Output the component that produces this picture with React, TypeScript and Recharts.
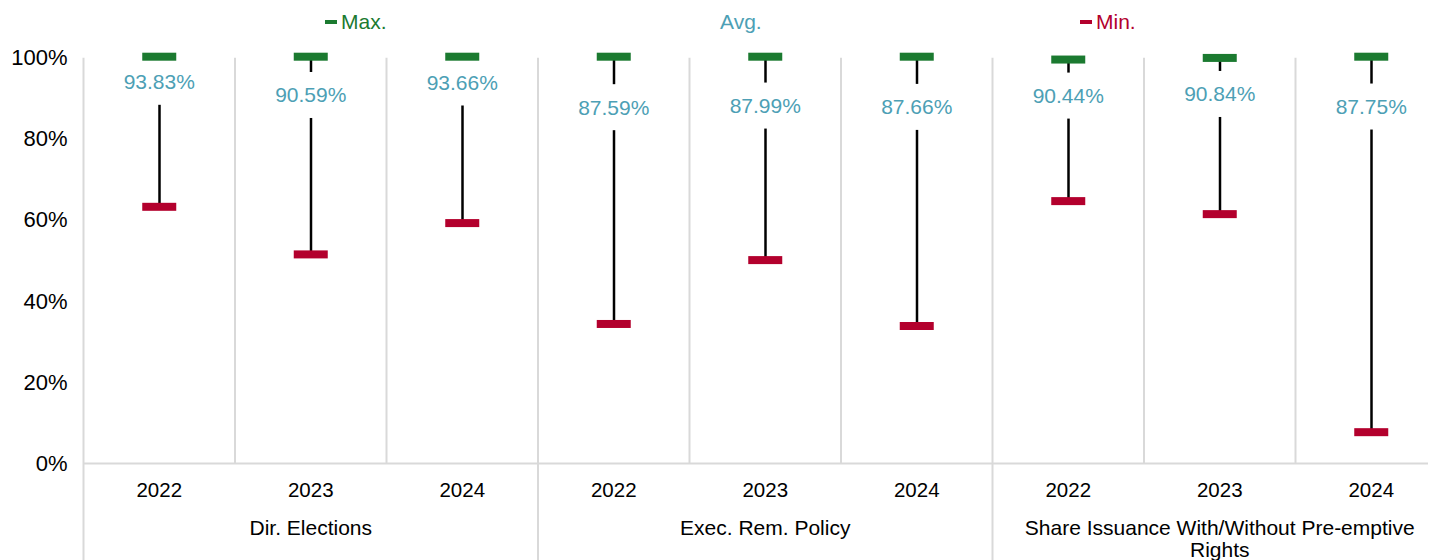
import React from "react"
import {
  ComposedChart,
  Bar,
  Scatter,
  XAxis,
  YAxis,
  Legend,
} from "recharts"

// values (fractions of 100%)
const groups = ["Dir. Elections", "Exec. Rem. Policy", "Share Issuance With/Without Pre-emptive Rights"]
const years = ["2022", "2023", "2024"]
const maxValues = [1, 1, 1, 1, 1, 1, 0.993, 0.997, 1]
const avgValues = [0.9383, 0.9059, 0.9366, 0.8759, 0.8799, 0.8766, 0.9044, 0.9084, 0.8775]
const minValues = [0.631, 0.514, 0.591, 0.343, 0.5, 0.338, 0.645, 0.613, 0.077]
const yTicks = [0, 0.2, 0.4, 0.6, 0.8, 1]

const data = groups.flatMap((g, gi) =>
  years.map((y, yi) => {
    const i = gi * 3 + yi
    return {
      key: `${g}|${y}`,
      group: g,
      year: y,
      max: maxValues[i],
      avg: avgValues[i],
      min: minValues[i],
      range: [minValues[i], maxValues[i]],
    }
  })
)

const GREEN = "#1b7a30"
const RED = "#b3002d"
const TEAL = "#4d9fb5"
const GRID = "#d9d9d9"
const FONT = 21
const FAMILY = "'Liberation Sans', Arial, sans-serif"

const CHART_W = 1440
const CHART_H = 600
const TOP = 48.7
const LEFT = 75.5
const RIGHT = 1
const PLOT_BOTTOM = 455.5
const BAND = (CHART_W - LEFT - RIGHT) / data.length

// simple word wrap using canvas text metrics
let ctx: CanvasRenderingContext2D | null = null
function wrap(label: string, maxWidth: number) {
  if (!ctx) {
    ctx = document.createElement("canvas").getContext("2d")
    if (ctx) ctx.font = `${FONT}px 'Liberation Sans', Arial, sans-serif`
  }
  const words = label.split(" ")
  const lines: string[] = []
  let cur = ""
  for (const w of words) {
    const next = cur ? `${cur} ${w}` : w
    const width = ctx ? ctx.measureText(next).width : next.length * FONT * 0.5
    if (width > maxWidth && cur) {
      lines.push(cur)
      cur = w
    } else {
      cur = next
    }
  }
  if (cur) lines.push(cur)
  return lines
}

const YearTick = (props: any) => {
  const { x, index } = props
  const left = x - BAND / 2
  return (
    <g>
      <line
        x1={left}
        x2={left}
        y1={TOP + 1}
        y2={index % 3 === 0 ? CHART_H : PLOT_BOTTOM}
        stroke={GRID}
        strokeWidth={2}
      />
      <text x={x} y={PLOT_BOTTOM + 26} dy="0.35em" textAnchor="middle" fontSize={20.5} fill="#000">
        {data[index].year}
      </text>
    </g>
  )
}

const GroupTick = (props: any) => {
  const { x, index } = props
  if (index % 3 !== 1) return <g />
  const lines = wrap(data[index].group, 430)
  return (
    <text x={x} y={520} textAnchor="middle" fontSize={FONT} fill="#000">
      {lines.map((l, i) => (
        <tspan key={i} x={x} dy={i === 0 ? "0.35em" : 22}>
          {l}
        </tspan>
      ))}
    </text>
  )
}

const Stem = (props: any) => {
  const { x, y, width, height } = props
  const cx = x + width / 2
  return <line x1={cx} x2={cx} y1={y} y2={y + height} stroke="#000" strokeWidth={2.5} />
}

const AvgLabel = (props: any) => {
  const { cx, cy, payload } = props
  return (
    <g>
      <rect x={cx - 42} y={cy - 23} width={84} height={46} fill="#fff" />
      <text x={cx} y={cy} dy="0.35em" textAnchor="middle" fontSize={FONT} fill={TEAL}>
        {`${(payload.avg * 100).toFixed(2)}%`}
      </text>
    </g>
  )
}

const MaxMark = (props: any) => {
  const { cx, cy } = props
  return <rect x={cx - 17} y={cy - 4} width={34} height={8} fill={GREEN} />
}

const MinMark = (props: any) => {
  const { cx, cy } = props
  return <rect x={cx - 17} y={cy - 4} width={34} height={8} fill={RED} />
}

const legendItems = [
  { name: "Max.", color: GREEN, marker: true, x: 317 },
  { name: "Avg.", color: TEAL, marker: false, x: 712 },
  { name: "Min.", color: RED, marker: true, x: 1072 },
]

const renderLegend = () => (
  <div style={{ position: "relative", height: 30 }}>
    {legendItems.map((it) => (
      <div
        key={it.name}
        style={{
          position: "absolute",
          left: it.x,
          top: 2,
          display: "flex",
          alignItems: "center",
          color: it.color,
          fontSize: FONT,
          lineHeight: "24px",
        }}
      >
        {it.marker && (
          <span style={{ display: "inline-block", width: 12, height: 4, background: it.color, marginRight: 4 }} />
        )}
        {it.name}
      </div>
    ))}
  </div>
)

export default function App() {
  return (
    <div
      style={{
        width: 1428,
        height: 552,
        overflow: "hidden",
        position: "relative",
        fontFamily: FAMILY,
      }}
    >
      <ComposedChart
        width={CHART_W}
        height={CHART_H}
        data={data}
        margin={{ top: TOP, right: RIGHT, left: 0, bottom: 0 }}
      >
        <XAxis
          dataKey="key"
          interval={0}
          height={40}
          tickLine={false}
          axisLine={{ stroke: GRID, strokeWidth: 2 }}
          tick={<YearTick />}
        />
        <XAxis
          dataKey="key"
          xAxisId="group"
          interval={0}
          height={104.5}
          tickLine={false}
          axisLine={false}
          tick={<GroupTick />}
        />
        <YAxis
          width={LEFT}
          domain={[0, 1]}
          ticks={yTicks}
          axisLine={false}
          tickLine={false}
          tick={{ fill: "#000", fontSize: 22, dx: -8 }}
          tickFormatter={(v: number) => `${Math.round(v * 100)}%`}
        />
        <Legend
          layout="horizontal"
          verticalAlign="middle"
          align="center"
          wrapperStyle={{ top: 0, left: 0, width: 1428, height: 30 }}
          content={renderLegend}
        />
        <Bar dataKey="range" barSize={10} shape={<Stem />} isAnimationActive={false} />
        <Scatter dataKey="avg" shape={<AvgLabel />} isAnimationActive={false} />
        <Scatter dataKey="max" shape={<MaxMark />} isAnimationActive={false} />
        <Scatter dataKey="min" shape={<MinMark />} isAnimationActive={false} />
      </ComposedChart>
    </div>
  )
}
